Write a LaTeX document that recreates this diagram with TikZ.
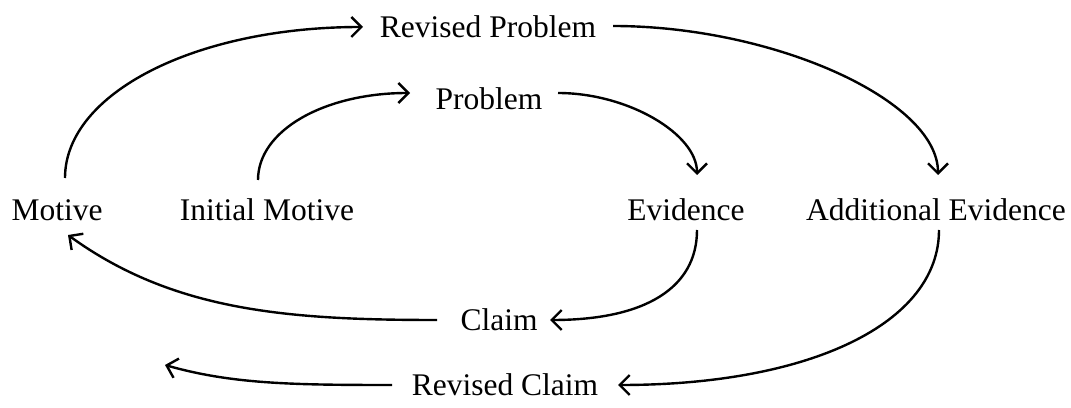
\documentclass[tikz,border=0pt]{standalone}
\usepackage{fontspec}
\setmainfont{Liberation Serif}
\usetikzlibrary{arrows.meta}
\begin{document}
\begin{tikzpicture}[x=1pt,y=1pt,
  lbl/.style={anchor=base,inner sep=0pt,font=\fontsize{31.5}{38}\selectfont},
  conn/.style={line width=2.4pt,-{Straight Barb[length=10pt,width=20pt,line width=2.4pt]}}]
\useasboundingbox (0,0) rectangle (1071,407);
\node[lbl] (rp) at (488,369) {Revised Problem};
\node[lbl] (pb) at (489,297) {Problem};
\node[lbl] (mo) at (57,186) {Motive};
\node[lbl] (im) at (267,186) {Initial Motive};
\node[lbl] (ev) at (686,186) {Evidence};
\node[lbl] (ae) at (936,186) {Additional Evidence};
\node[lbl] (cl) at (499,76) {Claim};
\node[lbl] (rc) at (505,11) {Revised Claim};
\coordinate (rcend) at (165,42);
\draw[conn] ([shift={(8,43)}]mo.base) .. controls +(0,85) and +(-167,0) .. ([shift={(-125,11)}]rp.base);
\draw[conn] ([shift={(-9,41)}]im.base) .. controls +(0,50) and +(-85,0) .. ([shift={(-79,17)}]pb.base);
\draw[conn] ([shift={(69,17)}]pb.base) .. controls +(70,0) and +(0,41) .. ([shift={(11,46)}]ev.base);
\draw[conn] ([shift={(125,12)}]rp.base) .. controls +(160,0) and +(0,75) .. ([shift={(2,46)}]ae.base);
\draw[conn] ([shift={(11,-9)}]ev.base) .. controls +(0,-58) and +(95,0) .. ([shift={(51,11)}]cl.base);
\draw[conn] ([shift={(-62,11)}]cl.base) .. controls +(-150,0) and +(105,-76) .. ([shift={(11,-14)}]mo.base);
\draw[conn] ([shift={(3,-9)}]ae.base) .. controls +(0,-93) and +(193,0) .. ([shift={(113,11)}]rc.base);
\draw[conn] ([shift={(-113,11)}]rc.base) .. controls +(-100,0) and +(67,-19) .. (rcend);
\end{tikzpicture}
\end{document}
